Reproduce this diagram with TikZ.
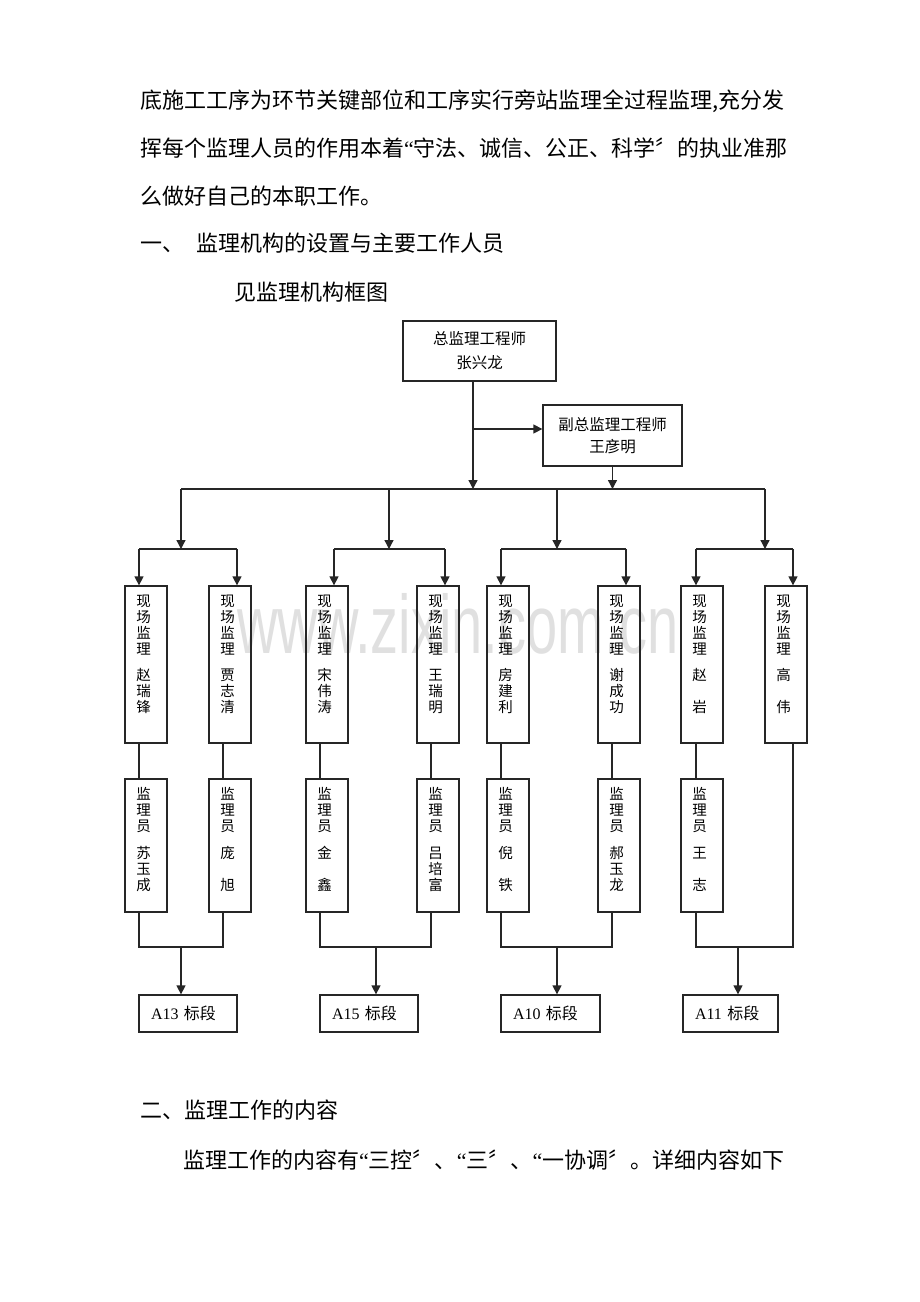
\documentclass[tikz,border=0pt]{standalone}
\usepackage{fontspec}
\setmainfont{Liberation Serif}
\newfontfamily\cjk{Noto Sans CJK SC}
\newfontfamily\lat{Liberation Serif}
\newfontfamily\wmfont{Liberation Sans}
\usetikzlibrary{arrows.meta}
\tikzset{
  ln/.style={line width=1.3pt, draw=black!85},
  arr/.style={ln, -{Triangle[length=9pt,width=9pt]}},
  frame/.style={draw=black!85, line width=1.3pt, inner sep=0pt},
  vbox/.style={frame, minimum width=42pt},
  vtxt/.style={inner sep=0pt, align=center, anchor=north, font=\cjk\fontsize{14.5}{16}\selectfont},
  hbox/.style={frame, align=center},
  abox/.style={frame, minimum height=37pt, inner xsep=12pt, align=left, font=\fontsize{16}{16}\selectfont},
  body/.style={inner sep=0pt, anchor=west, font=\cjk\fontsize{22}{22}\selectfont},
}
\newcommand{\oq}{{\lat “}}
\begin{document}
\begin{tikzpicture}[x=1pt,y=-1pt]
\useasboundingbox[fill=white] (0,0) rectangle (920,1302);

% watermark
\node[inner sep=0pt, anchor=base west, text=black!12, font=\wmfont\fontsize{56}{56}\selectfont] (wm) at (237,653) {\scalebox{1}[1.48]{www.zixin.com.cn}};

% body text
\node[body] (p1) at (140,101) {底施工工序为环节关键部位和工序实行旁站监理全过程监理,充分发};
\node[body] (p2) at (140,148) {挥每个监理人员的作用本着\oq 守法、诚信、公正、科学〞的执业准那};
\node[body] (p3) at (140,196) {么做好自己的本职工作。};
\node[body] (p4) at (140,243) {一、\hspace{12pt}监理机构的设置与主要工作人员};
\node[body] (p5) at (234,292) {见监理机构框图};
\node[body] (p6) at (140,1110) {二、监理工作的内容};
\node[body] (p7) at (183,1160) {监理工作的内容有\oq 三控〞、\oq 三〞、\oq 一协调〞。详细内容如下};

% top boxes
\node[hbox, minimum width=153pt, minimum height=60pt, font=\cjk\fontsize{15.5}{24}\selectfont] (T) at (479.5,351) {总监理工程师\\张兴龙};
\node[hbox, minimum width=139pt, minimum height=61pt, font=\cjk\fontsize{15.5}{22}\selectfont] (D) at (612.5,435.5) {副总监理工程师\\王彦明};

% row 1 boxes
\foreach \n/\x in {b1/146,b2/230,b3/327,b4/438,b5/508,b6/619,b7/702,b8/786}
  \node[vbox, minimum height=157pt] (\n) at (\x,664.5) {};
% row 2 boxes
\foreach \n/\x in {c1/146,c2/230,c3/327,c4/438,c5/508,c6/619,c7/702}
  \node[vbox, minimum height=133pt] (\n) at (\x,845.5) {};

% row 1 texts
\node[vtxt] (tb1) at ([xshift=-2.5pt,yshift=-9pt]b1.north) {现\\场\\监\\理\\[10pt]赵\\瑞\\锋};
\node[vtxt] (tb2) at ([xshift=-2.5pt,yshift=-9pt]b2.north) {现\\场\\监\\理\\[10pt]贾\\志\\清};
\node[vtxt] (tb3) at ([xshift=-2.5pt,yshift=-9pt]b3.north) {现\\场\\监\\理\\[10pt]宋\\伟\\涛};
\node[vtxt] (tb4) at ([xshift=-2.5pt,yshift=-9pt]b4.north) {现\\场\\监\\理\\[10pt]王\\瑞\\明};
\node[vtxt] (tb5) at ([xshift=-2.5pt,yshift=-9pt]b5.north) {现\\场\\监\\理\\[10pt]房\\建\\利};
\node[vtxt] (tb6) at ([xshift=-2.5pt,yshift=-9pt]b6.north) {现\\场\\监\\理\\[10pt]谢\\成\\功};
\node[vtxt] (tb7) at ([xshift=-2.5pt,yshift=-9pt]b7.north) {现\\场\\监\\理\\[10pt]赵\\[16pt]岩};
\node[vtxt] (tb8) at ([xshift=-2.5pt,yshift=-9pt]b8.north) {现\\场\\监\\理\\[10pt]高\\[16pt]伟};

% row 2 texts
\node[vtxt] (tc1) at ([xshift=-2.5pt,yshift=-9pt]c1.north) {监\\理\\员\\[11pt]苏\\玉\\成};
\node[vtxt] (tc2) at ([xshift=-2.5pt,yshift=-9pt]c2.north) {监\\理\\员\\[11pt]庞\\[16pt]旭};
\node[vtxt] (tc3) at ([xshift=-2.5pt,yshift=-9pt]c3.north) {监\\理\\员\\[11pt]金\\[16pt]鑫};
\node[vtxt] (tc4) at ([xshift=-2.5pt,yshift=-9pt]c4.north) {监\\理\\员\\[11pt]吕\\培\\富};
\node[vtxt] (tc5) at ([xshift=-2.5pt,yshift=-9pt]c5.north) {监\\理\\员\\[11pt]倪\\[16pt]铁};
\node[vtxt] (tc6) at ([xshift=-2.5pt,yshift=-9pt]c6.north) {监\\理\\员\\[11pt]郝\\玉\\龙};
\node[vtxt] (tc7) at ([xshift=-2.5pt,yshift=-9pt]c7.north) {监\\理\\员\\[11pt]王\\[16pt]志};

% bottom boxes
\node[abox, text width=74pt] (A13) at (188,1013.5) {A13 {\cjk 标段}};
\node[abox, text width=74pt] (A15) at (369,1013.5) {A15 {\cjk 标段}};
\node[abox, text width=75pt] (A10) at (550.5,1013.5) {A10 {\cjk 标段}};
\node[abox, text width=71pt] (A11) at (730.5,1013.5) {A11 {\cjk 标段}};

% top connectors
\coordinate (hub) at (473,489);
\coordinate (br) at (473,429);
\draw[arr] ([xshift=-6.5pt]T.south) -- (hub);
\draw[arr] (br) -- (br -| D.west);
\draw[arr] (D.south) -- (D.south |- hub);
\coordinate (m1) at (181,489);
\coordinate (m2) at (389,489);
\coordinate (m3) at (557,489);
\coordinate (m4) at (765,489);
\draw[ln] (m1) -- (m4);
\coordinate (g1) at (181,549);
\coordinate (g2) at (389,549);
\coordinate (g3) at (557,549);
\coordinate (g4) at (765,549);
\foreach \i in {1,2,3,4} \draw[arr] (m\i) -- (g\i);

% second level bars and drops
\draw[ln] ([xshift=-7pt]b1.north |- g1) -- ([xshift=7pt]b2.north |- g1);
\draw[ln] ([xshift=7pt]b3.north |- g2) -- ([xshift=7pt]b4.north |- g2);
\draw[ln] ([xshift=-7pt]b5.north |- g3) -- ([xshift=7pt]b6.north |- g3);
\draw[ln] ([xshift=-6pt]b7.north |- g4) -- ([xshift=7pt]b8.north |- g4);
\draw[arr] ([xshift=-7pt]b1.north |- g1) -- ([xshift=-7pt]b1.north);
\draw[arr] ([xshift=7pt]b2.north |- g1) -- ([xshift=7pt]b2.north);
\draw[arr] ([xshift=7pt]b3.north |- g2) -- ([xshift=7pt]b3.north);
\draw[arr] ([xshift=7pt]b4.north |- g2) -- ([xshift=7pt]b4.north);
\draw[arr] ([xshift=-7pt]b5.north |- g3) -- ([xshift=-7pt]b5.north);
\draw[arr] ([xshift=7pt]b6.north |- g3) -- ([xshift=7pt]b6.north);
\draw[arr] ([xshift=-6pt]b7.north |- g4) -- ([xshift=-6pt]b7.north);
\draw[arr] ([xshift=7pt]b8.north |- g4) -- ([xshift=7pt]b8.north);

% row 1 to row 2
\foreach \i in {1,2,3,4,5,6} \draw[ln] ([xshift=-7pt]b\i.south) -- ([xshift=-7pt]c\i.north);
\draw[ln] ([xshift=-6pt]b7.south) -- ([xshift=-6pt]c7.north);

% bottom collectors
\coordinate (u1) at (181,947);
\coordinate (u2) at (376,947);
\coordinate (u3) at (557,947);
\coordinate (u4) at (738,947);
\draw[ln] ([xshift=-7pt]c1.south) |- ([xshift=-7pt]c2.south |- u1) -- ([xshift=-7pt]c2.south);
\draw[ln] ([xshift=-7pt]c3.south) |- ([xshift=-7pt]c4.south |- u2) -- ([xshift=-7pt]c4.south);
\draw[ln] ([xshift=-7pt]c5.south) |- ([xshift=-7pt]c6.south |- u3) -- ([xshift=-7pt]c6.south);
\draw[ln] ([xshift=-6pt]c7.south) |- ([xshift=7pt]b8.south |- u4) -- ([xshift=7pt]b8.south);
\draw[arr] (u1) -- (u1 |- A13.north);
\draw[arr] (u2) -- (u2 |- A15.north);
\draw[arr] (u3) -- (u3 |- A10.north);
\draw[arr] (u4) -- (u4 |- A11.north);
\end{tikzpicture}
\end{document}
